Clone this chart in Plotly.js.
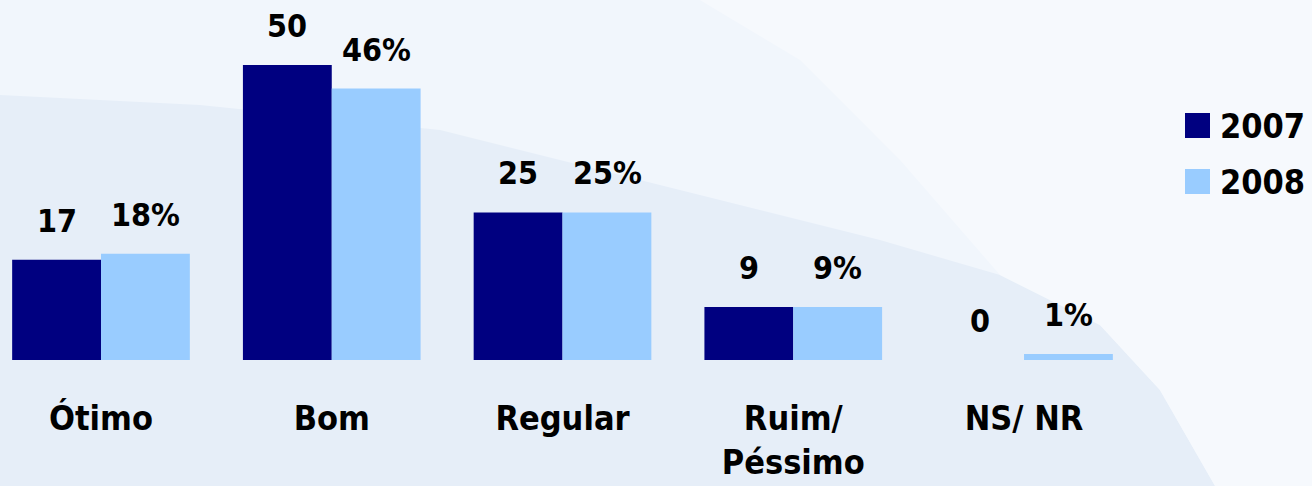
<!DOCTYPE html>
<html>
<head>
<meta charset="utf-8">
<script src="https://cdn.plot.ly/plotly-3.0.1.min.js"></script>
<style>html,body{margin:0;padding:0;background:#f1f6fc;}#chart{width:1312px;height:486px;}</style>
</head>
<body>
<div id="chart"></div>
<script>
const categories = ['Ótimo', 'Bom', 'Regular', 'Ruim/<br>Péssimo', 'NS/ NR'];
const values2007 = [17, 50, 25, 9, 0];
const values2008 = [18, 46, 25, 9, 1];
const labels2007 = ['17', '50', '25', '9', '0'];
const labels2008 = ['18%', '46%', '25%', '9%', '1%'];
const seriesNames = ['2007', '2008'];
const seriesColors = ['#000080', '#99CCFF'];

const W = 1312, H = 486, PB = 360; // plot bottom pixel
const FONT = 'DejaVu Sans Condensed, DejaVu Sans, sans-serif';
const px = x => x / W;
const py = y => (PB - y) / PB;

function pathFrom(points) {
  return 'M' + points.map(p => px(p[0]).toFixed(4) + ',' + py(p[1]).toFixed(4)).join(' L') + ' Z';
}

const traces = [
  {type: 'bar', name: seriesNames[0], x: categories, y: values2007,
   marker: {color: seriesColors[0]}, hoverinfo: 'none'},
  {type: 'bar', name: seriesNames[1], x: categories, y: values2008,
   marker: {color: seriesColors[1]}, hoverinfo: 'none'}
];

const annotations = [];
const valFont = {family: FONT, size: 32, color: '#000000', weight: 'bold'};
categories.forEach((c, i) => {
  annotations.push({x: c, y: values2007[i], xref: 'x', yref: 'y', text: labels2007[i],
    showarrow: false, xshift: -44.5, yshift: 18, yanchor: 'bottom', font: valFont});
  annotations.push({x: c, y: values2008[i], xref: 'x', yref: 'y', text: labels2008[i],
    showarrow: false, xshift: 44.5, yshift: 18, yanchor: 'bottom', font: valFont});
});

// custom legend
const legendTops = [113, 169];
const shapes = [
  {type: 'path', xref: 'paper', yref: 'paper', layer: 'below', line: {width: 0},
   fillcolor: '#e6eef8',
   path: pathFrom([[0, 95], [200, 105], [440, 130], [700, 195], [880, 240], [1000, 275],
                   [1100, 325], [1160, 390], [1215, 486], [0, 486]])},
  {type: 'path', xref: 'paper', yref: 'paper', layer: 'below', line: {width: 0},
   fillcolor: '#f6f9fd',
   path: pathFrom([[700, 0], [1312, 0], [1312, 486], [1215, 486], [1160, 390], [1100, 325],
                   [1000, 275], [900, 160], [800, 60]])}
];
seriesNames.forEach((n, k) => {
  const t = legendTops[k];
  shapes.push({type: 'rect', xref: 'paper', yref: 'paper', layer: 'above', line: {width: 0},
    fillcolor: seriesColors[k], x0: px(1185), x1: px(1210), y0: py(t), y1: py(t + 25)});
  annotations.push({xref: 'paper', yref: 'paper', x: px(1218), y: py(t + 12.5),
    xanchor: 'left', yanchor: 'middle', showarrow: false, text: n,
    font: {family: FONT, size: 34, color: '#000000', weight: 'bold'}});
});

const layout = {
  width: W, height: H,
  margin: {l: 0, r: 0, t: 0, b: H - PB, pad: 0},
  paper_bgcolor: '#f1f6fc',
  plot_bgcolor: 'rgba(0,0,0,0)',
  showlegend: false,
  barmode: 'group',
  bargap: 0.23,
  bargroupgap: 0,
  xaxis: {type: 'category', range: [-0.4377, 5.248], showgrid: false, zeroline: false,
          showline: false, ticks: '', ticklabelstandoff: 35,
          tickfont: {family: FONT, size: 34, color: '#000000', weight: 'bold'}},
  yaxis: {range: [0, 61], visible: false, showgrid: false, zeroline: false},
  shapes: shapes,
  annotations: annotations
};

Plotly.newPlot('chart', traces, layout, {staticPlot: true, displayModeBar: false});
</script>
</body>
</html>
